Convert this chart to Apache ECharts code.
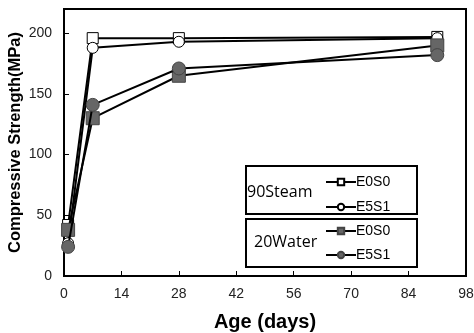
<!DOCTYPE html>
<html>
<head>
<meta charset="utf-8">
<script src="https://cdn.jsdelivr.net/npm/echarts@6/dist/echarts.min.js"></script>
<style>
html,body{margin:0;padding:0;background:#fff;}
#chart{width:474px;height:333px;}
</style>
</head>
<body>
<div id="chart"></div>
<script>
// ages (days) and strengths
var ages = [1, 7, 28, 91];
var steamE0S0 = [42, 196, 196, 197];
var steamE5S1 = [27, 188, 193, 196];
var waterE0S0 = [38, 130, 165, 190];
var waterE5S1 = [24, 141, 171, 182];
var xTicks = [0, 14, 28, 42, 56, 70, 84, 98];
var yTicks = [0, 50, 100, 150, 200];

function pairs(vals){
	var out = [];
	for(var i=0;i<ages.length;i++){
		out.push([ages[i], vals[i]]);
	}
	return out;
}

var myChart = echarts.init(document.getElementById('chart'));
var axisFont = 'Liberation Sans, Arial, sans-serif';

//系列定义
var seriesDefs = [
	{name:'90Steam E0S0', data:steamE0S0, symbol:'rect', size:11, fill:'#fff'},
	{name:'90Steam E5S1', data:steamE5S1, symbol:'circle', size:11, fill:'#fff'},
	{name:'20Water E0S0', data:waterE0S0, symbol:'rect', size:13, fill:'#666'},
	{name:'20Water E5S1', data:waterE5S1, symbol:'circle', size:13, fill:'#666'}
];
var series = [];
for(var i=0;i<seriesDefs.length;i++){
	var d = seriesDefs[i];
	series.push({
		name:d.name,
		type:'line',
		data:pairs(d.data),
		symbol:d.symbol,
		symbolSize:d.size,
		showAllSymbol:true,
		lineStyle:{color:'#000', width:2},
		itemStyle:{color:d.fill, borderColor:d.fill == '#fff' ? '#000' : '#444', borderWidth:1},
		z: 2 + i
	});
}

//图例，每个系列一个
var legendY = [175, 200, 224, 248];
var legends = [];
for(var i=0;i<seriesDefs.length;i++){
	legends.push({
		data:[seriesDefs[i].name],
		left:325, top:legendY[i],
		itemWidth:30, itemHeight:8, itemGap:0,
		padding:0,
		selectedMode:false,
		formatter:function(n){ return n.split(' ')[1]; },
		textStyle:{fontFamily:axisFont, fontSize:14, color:'#000', padding:[0,0,0,-5]}
	});
}

var option = {
	backgroundColor:'#fff',
	animation:false,
	grid:{left:64, right:8, top:9, bottom:57, show:true, borderColor:'#000', borderWidth:2,
		outerBoundsMode:'none', containLabel:false},
	legend:legends,
	xAxis:{
		type:'value', min:0, max:98, interval:14,
		name:'Age (days)', nameLocation:'middle', nameGap:36, nameMoveOverlap:false,
		nameTextStyle:{fontFamily:axisFont, fontWeight:'bold', fontSize:20, color:'#000'},
		axisLine:{lineStyle:{color:'#000', width:2}},
		axisTick:{inside:true, length:5, lineStyle:{color:'#000', width:1}},
		axisLabel:{fontFamily:axisFont, fontSize:14, color:'#222', margin:11},
		splitLine:{show:false}
	},
	yAxis:{
		type:'value', min:0, max:220, interval:50,
		name:'Compressive Strength(MPa)', nameLocation:'middle', nameGap:40, nameMoveOverlap:false,
		nameTextStyle:{fontFamily:axisFont, fontWeight:'bold', fontSize:16.5, color:'#000'},
		axisLine:{lineStyle:{color:'#000', width:2}},
		axisTick:{inside:true, length:5, lineStyle:{color:'#000', width:1}},
		axisLabel:{fontFamily:axisFont, fontSize:14, color:'#222', margin:12,
			formatter:function(v){ return yTicks.indexOf(v) >= 0 ? String(v) : ''; }},
		splitLine:{show:false}
	},
	graphic:[
		{type:'rect', shape:{x:246, y:166, width:171, height:48}, style:{fill:'none', stroke:'#000', lineWidth:2}, z:10},
		{type:'rect', shape:{x:246, y:219, width:171, height:48}, style:{fill:'none', stroke:'#000', lineWidth:2}, z:10},
		{type:'text', left:247, top:184, style:{text:'90Steam', font:'16px "Open Sans", sans-serif', fill:'#000'}, z:10},
		{type:'text', left:254, top:234, style:{text:'20Water', font:'16px "Open Sans", sans-serif', fill:'#000'}, z:10}
	],
	series:series
};
myChart.setOption(option);
</script>
</body>
</html>
